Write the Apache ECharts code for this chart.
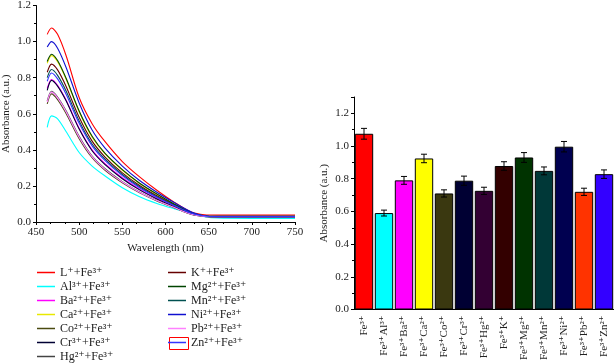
<!DOCTYPE html>
<html>
<head>
<meta charset="utf-8">
<script src="https://cdn.jsdelivr.net/npm/echarts@6/dist/echarts.min.js"></script>
<style>
  html, body { margin: 0; padding: 0; background: #fff; }
  #chart { width: 614px; height: 363px; }
</style>
</head>
<body>
<div id="chart"></div>
<script>
// wavelengths (nm) sampled from the spectra
const wavelengths = [463, 468, 475, 485, 500, 515, 530, 550, 570, 590, 610, 630, 645, 660, 700, 750]

// absorbance
const specL = [1.04, 1.075, 1.04, 0.92, 0.69, 0.545, 0.445, 0.335, 0.25, 0.176, 0.11, 0.055, 0.04, 0.038, 0.038, 0.038]
const specAl = [0.525, 0.588, 0.572, 0.50, 0.385, 0.31, 0.255, 0.19, 0.14, 0.103, 0.074, 0.048, 0.03, 0.022, 0.02, 0.02]
const specBa = [0.74, 0.79, 0.758, 0.675, 0.52, 0.40, 0.323, 0.245, 0.182, 0.131, 0.087, 0.046, 0.032, 0.03, 0.03, 0.03]
const specCa = [0.88, 0.922, 0.888, 0.79, 0.61, 0.47, 0.378, 0.287, 0.213, 0.153, 0.10, 0.052, 0.034, 0.031, 0.031, 0.031]
const specCo = [0.655, 0.71, 0.678, 0.6, 0.462, 0.356, 0.287, 0.218, 0.162, 0.117, 0.079, 0.042, 0.031, 0.028, 0.028, 0.028]
const specCr = [0.73, 0.785, 0.753, 0.67, 0.515, 0.395, 0.318, 0.24, 0.178, 0.128, 0.085, 0.045, 0.032, 0.029, 0.029, 0.029]
const specHg = [0.67, 0.725, 0.693, 0.615, 0.475, 0.365, 0.295, 0.224, 0.166, 0.12, 0.08, 0.043, 0.031, 0.029, 0.029, 0.029]
const specK = [0.83, 0.875, 0.843, 0.75, 0.58, 0.448, 0.36, 0.272, 0.202, 0.145, 0.096, 0.05, 0.033, 0.03, 0.03, 0.03]
const specMg = [0.89, 0.93, 0.895, 0.795, 0.615, 0.475, 0.38, 0.29, 0.215, 0.155, 0.10, 0.052, 0.034, 0.031, 0.031, 0.031]
const specMn = [0.80, 0.845, 0.813, 0.725, 0.56, 0.432, 0.348, 0.263, 0.195, 0.14, 0.093, 0.049, 0.033, 0.03, 0.03, 0.03]
const specNi = [0.97, 1.0, 0.963, 0.855, 0.66, 0.51, 0.41, 0.31, 0.23, 0.165, 0.108, 0.056, 0.035, 0.032, 0.032, 0.032]
const specPb = [0.665, 0.72, 0.688, 0.61, 0.47, 0.362, 0.292, 0.222, 0.165, 0.119, 0.08, 0.043, 0.031, 0.029, 0.029, 0.029]
const specZn = [0.78, 0.826, 0.793, 0.707, 0.547, 0.422, 0.34, 0.257, 0.19, 0.137, 0.091, 0.048, 0.033, 0.03, 0.03, 0.03]

const specNames = ['L⁺+Fe³⁺', 'Al³⁺+Fe³⁺', 'Ba²⁺+Fe³⁺', 'Ca²⁺+Fe³⁺', 'Co²⁺+Fe³⁺', 'Cr³⁺+Fe³⁺', 'Hg²⁺+Fe³⁺',
  'K⁺+Fe³⁺', 'Mg²⁺+Fe³⁺', 'Mn²⁺+Fe³⁺', 'Ni²⁺+Fe³⁺', 'Pb²⁺+Fe³⁺', 'Zn²⁺+Fe³⁺']
const specData = [specL, specAl, specBa, specCa, specCo, specCr, specHg, specK, specMg, specMn, specNi, specPb, specZn]
const specColors = ['#ff0000', '#00ffff', '#ff00ff', '#e8e800', '#4a4a10', '#000033', '#444444',
  '#660000', '#004400', '#005050', '#1010d0', '#ff80ff', '#3333ff']

// bar chart
const barCats = ['Fe³⁺', 'Fe³⁺Al³⁺', 'Fe³⁺Ba²⁺', 'Fe³⁺Ca²⁺', 'Fe³⁺Co²⁺', 'Fe³⁺Cr³⁺', 'Fe³⁺Hg²⁺',
  'Fe³⁺K⁺', 'Fe³⁺Mg²⁺', 'Fe³⁺Mn²⁺', 'Fe³⁺Ni²⁺', 'Fe³⁺Pb²⁺', 'Fe³⁺Zn²⁺']
const barVals = [1.075, 0.59, 0.79, 0.924, 0.71, 0.788, 0.726, 0.878, 0.93, 0.848, 0.996, 0.72, 0.828]
const barErrs = [0.033, 0.018, 0.024, 0.026, 0.022, 0.028, 0.022, 0.026, 0.03, 0.024, 0.032, 0.022, 0.026]
const barColors = ['#ff0000', '#00ffff', '#ff00ff', '#ffff00', '#3a3810', '#000033', '#330033',
  '#330000', '#003300', '#003838', '#000050', '#ff3300', '#3300ff']

const font = 'Liberation Serif, DejaVu Serif, serif'
const txt = { fontFamily: font, fontSize: 11, color: '#222' }

const myChart = echarts.init(document.getElementById('chart'))

// 折线
const series = specData.map((d, i) => ({
  name: specNames[i],
  type: 'line',
  xAxisIndex: 0,
  yAxisIndex: 0,
  data: d.map((v, j) => [wavelengths[j], v]),
  showSymbol: false,
  symbol: 'none',
  smooth: 0.3,
  lineStyle: { width: 1.1, color: specColors[i] },
  itemStyle: { color: specColors[i] }
}))

// 柱状图
series.push({
  type: 'bar',
  xAxisIndex: 1,
  yAxisIndex: 1,
  barCategoryGap: '8%',
  data: barVals.map((v, i) => ({ value: v, itemStyle: { color: barColors[i] } })),
  itemStyle: { borderColor: '#000', borderWidth: 1 }
})

// 误差线
series.push({
  type: 'custom',
  xAxisIndex: 1,
  yAxisIndex: 1,
  z: 5,
  data: barVals.map((v, i) => [i, v, barErrs[i]]),
  renderItem: function (params, api) {
    const x = api.value(0)
    const hi = api.coord([x, api.value(1) + api.value(2)])
    const lo = api.coord([x, api.value(1) - api.value(2)])
    const w = 3
    const s = { stroke: '#000', lineWidth: 1 }
    return {
      type: 'group',
      children: [
        { type: 'line', shape: { x1: hi[0], y1: hi[1], x2: lo[0], y2: lo[1] }, style: s },
        { type: 'line', shape: { x1: hi[0] - w, y1: hi[1], x2: hi[0] + w, y2: hi[1] }, style: s },
        { type: 'line', shape: { x1: lo[0] - w, y1: lo[1], x2: lo[0] + w, y2: lo[1] }, style: s }
      ]
    }
  }
})

const legendBase = {
  orient: 'vertical',
  top: 266,
  padding: 0,
  icon: 'rect',
  itemWidth: 18,
  itemHeight: 1.5,
  itemGap: 1,
  textStyle: { fontFamily: font, fontSize: 12, color: '#222', lineHeight: 13 }
}

const options = {
  animation: false,
  backgroundColor: '#fff',
  legend: [
    Object.assign({}, legendBase, { left: 37, data: specNames.slice(0, 7) }),
    Object.assign({}, legendBase, { left: 168, data: specNames.slice(7) })
  ],
  grid: [
    { left: 36, top: 4, width: 259, height: 218 },
    { left: 354, top: 97, right: 0, bottom: 50 }
  ],
  xAxis: [
    {
      type: 'value',
      gridIndex: 0,
      min: 450,
      max: 750,
      interval: 50,
      name: 'Wavelength (nm)',
      nameLocation: 'middle',
      nameGap: 20,
      nameTextStyle: { fontFamily: font, fontSize: 11, color: '#222' },
      axisLine: { lineStyle: { color: '#000' } },
      axisTick: { length: 3, lineStyle: { color: '#000' } },
      minorTick: { show: true, splitNumber: 3, length: 2, lineStyle: { color: '#000' } },
      axisLabel: Object.assign({ margin: 5 }, txt),
      splitLine: { show: false }
    },
    {
      type: 'category',
      gridIndex: 1,
      data: barCats,
      axisLine: { lineStyle: { color: '#000' } },
      axisTick: { alignWithLabel: true, length: 3, lineStyle: { color: '#000' } },
      axisLabel: Object.assign({ rotate: 90, margin: 6, interval: 0 }, txt)
    }
  ],
  yAxis: [
    {
      type: 'value',
      gridIndex: 0,
      min: 0,
      max: 1.2,
      interval: 0.2,
      name: 'Absorbance (a.u.)',
      nameLocation: 'middle',
      nameGap: 24,
      nameTextStyle: { fontFamily: font, fontSize: 11, color: '#222' },
      axisLine: { show: true, lineStyle: { color: '#000' } },
      axisTick: { show: true, length: 3, lineStyle: { color: '#000' } },
      minorTick: { show: true, splitNumber: 2, length: 2, lineStyle: { color: '#000' } },
      axisLabel: Object.assign({ margin: 5, formatter: v => v.toFixed(1) }, txt),
      splitLine: { show: false }
    },
    {
      type: 'value',
      gridIndex: 1,
      min: 0,
      max: 1.3,
      interval: 0.2,
      name: 'Absorbance (a.u.)',
      nameLocation: 'middle',
      nameGap: 24,
      nameTextStyle: { fontFamily: font, fontSize: 11, color: '#222' },
      axisLine: { show: true, lineStyle: { color: '#000' } },
      axisTick: { show: true, length: 3, lineStyle: { color: '#000' } },
      minorTick: { show: true, splitNumber: 2, length: 2, lineStyle: { color: '#000' } },
      axisLabel: Object.assign({ margin: 5, showMaxLabel: false, formatter: v => v.toFixed(1) }, txt),
      splitLine: { show: false }
    }
  ],
  // 图例中Zn那一项的红框
  graphic: [{
    type: 'rect',
    left: 167,
    top: 335,
    shape: { width: 19, height: 12 },
    style: { fill: 'none', stroke: '#ff0000', lineWidth: 1 }
  }],
  series: series
}
myChart.setOption(options)
</script>
</body>
</html>
